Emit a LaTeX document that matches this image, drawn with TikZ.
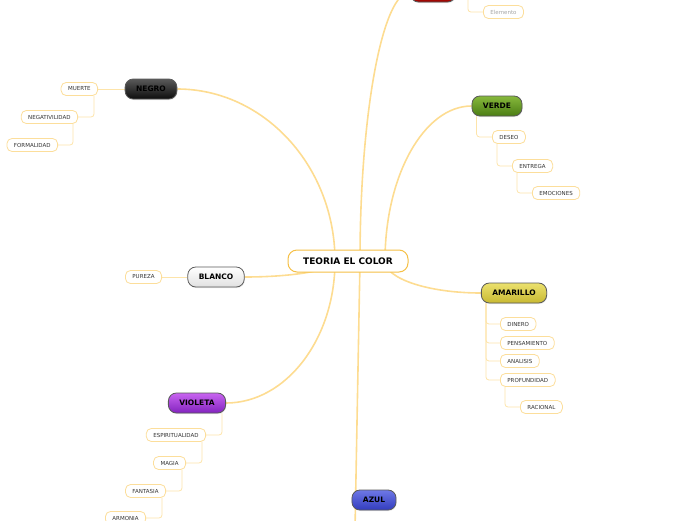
\documentclass[tikz,border=0pt]{standalone}
\usepackage{fontspec}
\setmainfont{DejaVu Sans}
\usepackage{tikz}
\usetikzlibrary{
  calc,positioning,backgrounds,shadows
}
\definecolor{RootGold}{RGB}{245,192,70}
\definecolor{BranchGold}{RGB}{253,220,145}
\definecolor{TwigGold}{RGB}{253,228,170}
\definecolor{LeafEdge}{RGB}{252,222,155}
\newcommand{\mapcurve}[2]{\draw[branch] (#1) .. controls ($(#1)!0.55!(#1|-#2)$) and ($(#2)!0.55!(#1|-#2)$) .. (#2);}

\begin{document}
\begin{tikzpicture}[x=1pt,y=-1pt,
    root/.style={draw=RootGold,line width=1pt,fill=white,rounded corners=9pt,
      minimum height=22pt,minimum width=120pt,font=\fontsize{9}{10}\selectfont\bfseries},
    topic/.style={draw=black!65,line width=0.8pt,rounded corners=8pt,minimum height=20pt,
      inner xsep=11pt,font=\fontsize{7.5}{8}\selectfont\bfseries,
      drop shadow={opacity=0.2,shadow xshift=0.6pt,shadow yshift=-1pt}},
    leaf/.style={draw=LeafEdge,line width=0.8pt,fill=white,rounded corners=5pt,
      minimum height=13pt,inner xsep=7pt,inner ysep=0pt,text=black!80,
      font=\fontsize{5.5}{6}\selectfont},
    branch/.style={draw=BranchGold,line width=1.6pt},
    twig/.style={draw=TwigGold,line width=0.8pt,rounded corners=3pt}]
  \useasboundingbox (0,0) rectangle (696,520);
  \node[root] (root) at (348,261) {TEORIA EL COLOR};
  \coordinate (rootL) at ([xshift=-13pt]root.center);
  \coordinate (rootM) at ([xshift=12pt]root.center);
  \coordinate (rootR) at ([xshift=37pt]root.center);
  \coordinate (azulend) at (355,530);

  \node[topic,top color=red!60!orange!90!white,bottom color=red!60!black,minimum width=45pt] (rojo) at (433,-8) {};
  \node[topic,top color=black!65,bottom color=black!95] (negro) at (151,89) {NEGRO};
  \node[topic,top color=white,bottom color=black!12] (blanco) at (216,277) {BLANCO};
  \node[topic,top color={rgb,255:red,135;green,185;blue,60},bottom color={rgb,255:red,75;green,125;blue,20}] (verde) at (497,106) {VERDE};
  \node[topic,top color={rgb,255:red,235;green,225;blue,110},bottom color={rgb,255:red,200;green,185;blue,50}] (amarillo) at (514,293) {AMARILLO};
  \node[topic,top color={rgb,255:red,200;green,100;blue,240},bottom color={rgb,255:red,130;green,35;blue,190}] (violeta) at (197,403) {VIOLETA};
  \node[topic,top color={rgb,255:red,110;green,120;blue,230},bottom color={rgb,255:red,50;green,60;blue,190}] (azul) at (374,500) {AZUL};

  \node[leaf,anchor=west,minimum width=38pt] (oculto) at (484,-7) {};
  \node[leaf,anchor=west,text=black!35] (elemento) at (483,12) {Elemento};

  \node[leaf,anchor=east] (muerte) at (98,89) {MUERTE};
  \node[leaf,anchor=east] (negativ) at (78,117) {NEGATIVILIDAD};
  \node[leaf,anchor=east] (formal) at (58,145) {FORMALIDAD};

  \node[leaf,anchor=east] (pureza) at (162,277) {PUREZA};

  \node[leaf,anchor=west] (deseo) at (492,137) {DESEO};
  \node[leaf,anchor=west] (entrega) at (512,166) {ENTREGA};
  \node[leaf,anchor=west] (emocion) at (532,193) {EMOCIONES};

  \node[leaf,anchor=west] (dinero) at (500,324) {DINERO};
  \node[leaf,anchor=west] (pensam) at (500,343) {PENSAMIENTO};
  \node[leaf,anchor=west] (analisis) at (500,361) {ANALISIS};
  \node[leaf,anchor=west] (profund) at (500,380) {PROFUNDIDAD};
  \node[leaf,anchor=west] (racional) at (520,407) {RACIONAL};

  \node[leaf,anchor=east] (espirit) at (206,435) {ESPIRITUALIDAD};
  \node[leaf,anchor=east] (magia) at (186,463) {MAGIA};
  \node[leaf,anchor=east] (fantasia) at (166,491) {FANTASIA};
  \node[leaf,anchor=east] (armonia) at (146,518) {ARMONIA};

  \begin{scope}[on background layer]
    \mapcurve{rootL}{negro.east}
    \mapcurve{rootL}{blanco.east}
    \mapcurve{rootL}{violeta.east}
    \mapcurve{rootM}{rojo.west}
    \mapcurve{rootR}{verde.west}
    \mapcurve{rootR}{amarillo.west}
    \draw[branch] (rootM) -- (azulend);

    \draw[twig] (rojo.east) -- (oculto.west);
    \draw[twig] ([xshift=12pt]rojo.east) |- (elemento.west);

    \draw[twig] (negro.west) -- (muerte.east);
    \draw[twig] ([xshift=-4pt]muerte.south east) |- (negativ.east);
    \draw[twig] ([xshift=-5pt]negativ.south east) |- (formal.east);

    \draw[twig] (blanco.west) -- (pureza.east);

    \draw[twig] ([xshift=5pt]verde.south west) |- (deseo.west);
    \draw[twig] ([xshift=5pt]deseo.south west) |- (entrega.west);
    \draw[twig] ([xshift=5pt]entrega.south west) |- (emocion.west);

    \draw[twig] ([xshift=5pt]amarillo.south west) |- (dinero.west);
    \draw[twig] ([xshift=5pt]amarillo.south west) |- (pensam.west);
    \draw[twig] ([xshift=5pt]amarillo.south west) |- (analisis.west);
    \draw[twig] ([xshift=5pt]amarillo.south west) |- (profund.west);
    \draw[twig] ([xshift=5pt]profund.south west) |- (racional.west);

    \draw[twig] ([xshift=-4pt]violeta.south east) |- (espirit.east);
    \draw[twig] ([xshift=-4pt]espirit.south east) |- (magia.east);
    \draw[twig] ([xshift=-4pt]magia.south east) |- (fantasia.east);
    \draw[twig] ([xshift=-4pt]fantasia.south east) |- (armonia.east);
  \end{scope}
\end{tikzpicture}
\end{document}
